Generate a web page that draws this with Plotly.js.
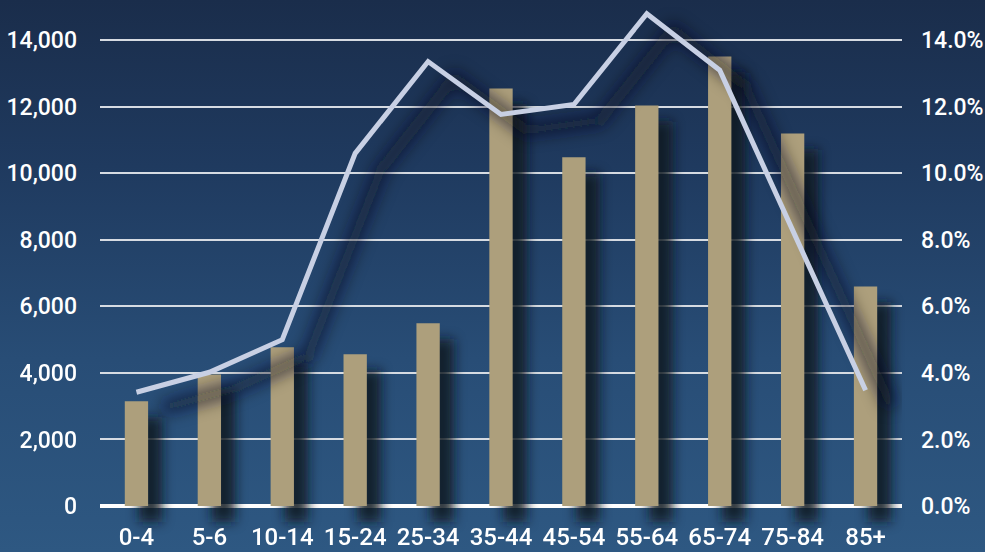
<!DOCTYPE html>
<html>
<head>
<meta charset="utf-8">
<script src="https://cdn.plot.ly/plotly-3.0.1.min.js"></script>
<style>
  html, body { margin: 0; padding: 0; width: 985px; height: 552px; overflow: hidden; }
  body {
    background: linear-gradient(180deg, #1a2d4b 0%, #1f3a5f 30%, #284d76 65%, #2e5882 100%);
  }
  #chart { width: 985px; height: 552px; }
</style>
</head>
<body>
<div id="chart"></div>
<script>
const ageGroups = ["0-4", "5-6", "10-14", "15-24", "25-34", "35-44", "45-54", "55-64", "65-74", "75-84", "85+"];
const counts = [3150, 3950, 4770, 4560, 5490, 12550, 10480, 12040, 13510, 11200, 6600];
const shares = [0.0342, 0.0402, 0.050, 0.106, 0.1336, 0.1177, 0.1207, 0.148, 0.131, 0.083, 0.0348];

const fontFam = "Roboto, 'Liberation Sans', sans-serif";
const fontSize = 23;

const traces = [
  { type: 'bar', x: ageGroups, y: counts, marker: { color: 'rgba(18,22,32,0.85)' },
    width: 0.32, cliponaxis: false, hoverinfo: 'skip', showlegend: false },
  { type: 'bar', x: ageGroups, y: counts, marker: { color: '#ad9f7c' },
    width: 0.32, showlegend: false },
  { type: 'scatter', mode: 'lines', x: ageGroups, y: shares, yaxis: 'y2',
    line: { color: 'rgba(18,22,32,0.75)', width: 11 }, hoverinfo: 'skip', showlegend: false, cliponaxis: false },
  { type: 'scatter', mode: 'lines', x: ageGroups, y: shares, yaxis: 'y2',
    line: { color: '#c8d0e4', width: 5 }, showlegend: false, cliponaxis: false }
];

const layout = {
  width: 985, height: 552,
  margin: { l: 100, r: 83, t: 7, b: 46 },
  paper_bgcolor: 'rgba(0,0,0,0)',
  plot_bgcolor: 'rgba(0,0,0,0)',
  barmode: 'overlay',
  font: { family: fontFam, size: fontSize, color: '#ffffff', weight: 500 },
  xaxis: { type: 'category', showgrid: false, showline: false, zeroline: false, ticks: '',
    ticklabelstandoff: 14, tickfont: { family: fontFam, size: fontSize + 1, color: '#ffffff', weight: 500 } },
  yaxis: { range: [0, 15000], dtick: 2000, tick0: 0, tickformat: ',d', showgrid: true,
    gridcolor: '#d6dbe2', gridwidth: 2, zeroline: true, zerolinecolor: '#ffffff', zerolinewidth: 4,
    showline: false, ticks: '', ticklabelstandoff: 22,
    tickfont: { family: fontFam, size: fontSize, color: '#ffffff', weight: 500 } },
  yaxis2: { range: [0, 0.15], dtick: 0.02, tick0: 0, tickformat: '.1%', overlaying: 'y', side: 'right',
    showgrid: false, zeroline: false, showline: false, ticks: '', ticklabelstandoff: 18,
    tickfont: { family: fontFam, size: fontSize, color: '#ffffff', weight: 500 } }
};

Plotly.newPlot('chart', traces, layout, { displayModeBar: false, staticPlot: true }).then(function () {
  const svg = document.querySelector('#chart .main-svg');
  const ns = 'http://www.w3.org/2000/svg';
  let defs = svg.querySelector('defs');
  const mk = function (id, sd) {
    const filt = document.createElementNS(ns, 'filter');
    filt.setAttribute('id', id);
    filt.setAttribute('x', '-50%'); filt.setAttribute('y', '-50%');
    filt.setAttribute('width', '200%'); filt.setAttribute('height', '200%');
    const blur = document.createElementNS(ns, 'feGaussianBlur');
    blur.setAttribute('stdDeviation', sd);
    filt.appendChild(blur);
    defs.appendChild(filt);
  };
  mk('barshadow', '6');
  mk('lineshadow', '8');
  const barTraces = svg.querySelectorAll('.barlayer .trace');
  if (barTraces.length) {
    barTraces[0].setAttribute('filter', 'url(#barshadow)');
    barTraces[0].setAttribute('transform', 'translate(14,16)');
  }
  const lineTraces = svg.querySelectorAll('.scatterlayer .trace');
  if (lineTraces.length) {
    lineTraces[0].setAttribute('filter', 'url(#lineshadow)');
    lineTraces[0].setAttribute('transform', 'translate(26,16)');
  }
});
</script>
</body>
</html>
